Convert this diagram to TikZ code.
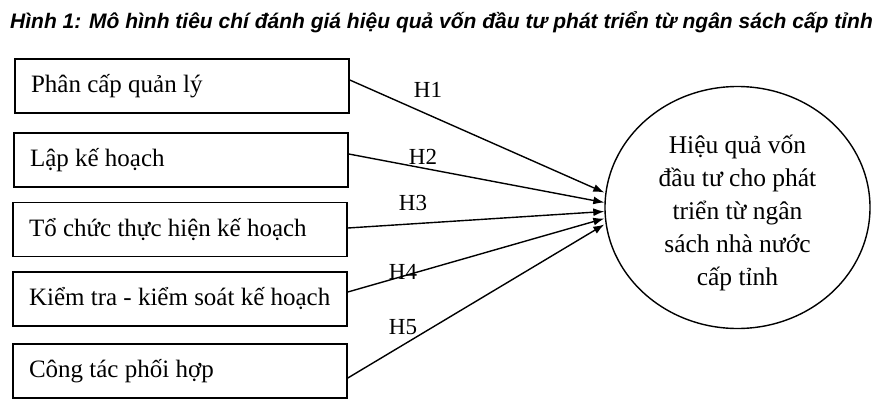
\documentclass[tikz,border=0pt]{standalone}
\usepackage{fontspec}
\setmainfont{Liberation Serif}
\newfontfamily\titlefont{Liberation Sans}
\usetikzlibrary{arrows.meta,shapes.geometric}
\newcommand\boxtext[1]{\makebox[302pt][l]{#1}}
\begin{document}
\begin{tikzpicture}[x=1pt,y=-1pt,
  box/.style={draw,line width=1.6pt,minimum width=334pt,minimum height=54pt,inner xsep=16pt,
    font=\fontsize{25}{28}\selectfont},
  conn/.style={line width=1.4pt,-{Latex[length=11pt,width=8pt]}},
  hlab/.style={font=\fontsize{23}{26}\selectfont,inner sep=0pt}]
\useasboundingbox (0,0) rectangle (878,413);
\node[anchor=west,inner sep=0pt,font=\titlefont\bfseries\itshape\fontsize{21}{24}\selectfont] (title) at (10,22)
  {Hình 1: Mô hình tiêu chí đánh giá hiệu quả vốn đầu tư phát triển từ ngân sách cấp tỉnh};
\node[box] (b1) at (182,86) {\boxtext{Phân cấp quản lý}};
\node[box] (b2) at (181,160) {\boxtext{Lập kế hoạch}};
\node[box] (b3) at (180,229.5) {\boxtext{Tổ chức thực hiện kế hoạch}};
\node[box] (b4) at (180,299) {\boxtext{Kiểm tra - kiểm soát kế hoạch}};
\node[box] (b5) at (180,371) {\boxtext{Công tác phối hợp}};
\node[draw,ellipse,line width=1.4pt,minimum width=265pt,minimum height=242pt,inner sep=0pt,
  font=\fontsize{25.5}{33}\selectfont] (c) at (737.5,207.5)
  {\raisebox{-5pt}[\height][\depth]{\begin{tabular}{@{}c@{}}Hiệu quả vốn\\đầu tư cho phát\\triển từ ngân\\sách nhà nước\\cấp tỉnh\end{tabular}}};
\draw[conn] ([yshift=6pt]b1.east) -- ([yshift=15pt]c.west);
\draw[conn] ([yshift=6pt]b2.east) -- ([yshift=5pt]c.west);
\draw[conn] ([yshift=1.5pt]b3.east) -- ([yshift=-4pt]c.west);
\draw[conn] ([yshift=7pt]b4.east) -- ([yshift=-11pt]c.west);
\draw[conn] ([yshift=-7pt]b5.east) -- ([yshift=-17pt]c.west);
\node[hlab] (h1) at (428,90) {H1};
\node[hlab] (h2) at (423,157) {H2};
\node[hlab] (h3) at (413,203) {H3};
\node[hlab] (h4) at (403,272) {H4};
\node[hlab] (h5) at (403,327) {H5};
\end{tikzpicture}
\end{document}
